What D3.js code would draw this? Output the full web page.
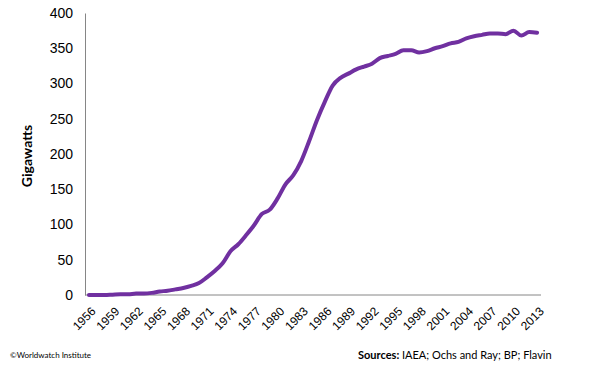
<!DOCTYPE html>
<html>
<head>
<meta charset="utf-8">
<script src="https://cdn.jsdelivr.net/npm/d3@7"></script>
<style>
  body { margin: 0; background: #fff; }
  svg { display: block; font-family: Lato, "Open Sans", sans-serif; }
</style>
</head>
<body>
<script>
// World nuclear generating capacity, 1956-2013 (GW)
var years = d3.range(1956, 2014);
var capacity = [
  0, 0, 0, 0.5, 1, 1, 2, 2, 3, 5,
  6, 8, 10, 13, 17, 25, 34, 45, 62, 72,
  85, 99, 115, 121, 137, 157, 170, 190, 218, 248,
  274, 297, 308, 314, 320, 324, 328, 336, 339, 342,
  347, 347, 344, 346, 350, 353, 357, 359, 364, 367,
  369, 371, 371, 370, 375, 368, 373, 372
];
var yTicks = [0, 50, 100, 150, 200, 250, 300, 350, 400];
var xTickYears = d3.range(1956, 2014, 3);

var width = 589, height = 371;
var margin = { top: 13, right: 48, bottom: 76, left: 85 };

var svg = d3.select("body").append("svg")
    .attr("width", width)
    .attr("height", height);

// Setup scales.
var xScale = d3.scalePoint()
    .domain(years)
    .range([margin.left, width - margin.right])
    .padding(0.5);
var yScale = d3.scaleLinear()
    .domain([0, 400])
    .range([height - margin.bottom, margin.top]);

// y axis
var yAxis = svg.append("g")
    .attr("transform", "translate(" + margin.left + ",0)")
    .call(d3.axisLeft(yScale).tickValues(yTicks).tickSize(0).tickPadding(12));
yAxis.select(".domain").attr("stroke", "#868686");
yAxis.selectAll("text").style("font-size", "14px").attr("fill", "#000");

// x axis
var xAxis = svg.append("g")
    .attr("transform", "translate(0," + (height - margin.bottom) + ")")
    .call(d3.axisBottom(xScale).tickValues(xTickYears).tickSize(0));
xAxis.select(".domain").attr("stroke", "#868686")
    .attr("d", "M" + margin.left + ",0H" + (width - margin.right));
xAxis.selectAll("text")
    .style("font-size", "12px")
    .attr("fill", "#000")
    .attr("text-anchor", "end")
    .attr("dy", "0.35em")
    .attr("transform", "translate(2,12) rotate(-45)");

// y axis label
svg.append("text")
    .attr("transform", "translate(32," + (yScale(200) + 2) + ") rotate(-90)")
    .attr("text-anchor", "middle")
    .style("font-size", "14px")
    .style("font-weight", "bold")
    .text("Gigawatts");

// the line
var line = d3.line()
    .x(function (d, i) { return xScale(years[i]); })
    .y(function (d) { return yScale(d); })
    .curve(d3.curveMonotoneX);

svg.append("path")
    .datum(capacity)
    .attr("fill", "none")
    .attr("stroke", "#7030a0")
    .attr("stroke-width", 4)
    .attr("stroke-linejoin", "round")
    .attr("stroke-linecap", "round")
    .attr("d", line);

// footer notes
svg.append("text")
    .attr("x", 10)
    .attr("y", 358)
    .style("font-size", "8px")
    .text("\u00a9Worldwatch Institute");

var src = svg.append("text")
    .attr("x", 358)
    .attr("y", 359)
    .style("font-size", "11px");
src.append("tspan").style("font-weight", "bold").text("Sources: ");
src.append("tspan").text("IAEA; Ochs and Ray; BP; Flavin");
</script>
</body>
</html>
